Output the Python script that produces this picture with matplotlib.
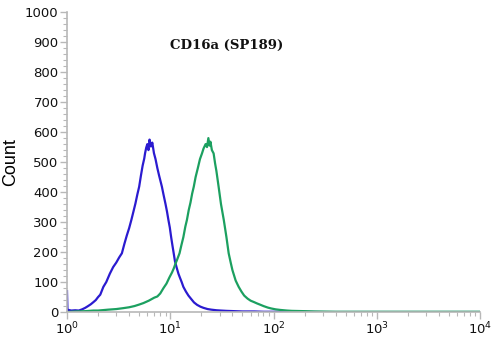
import numpy as np
import matplotlib.pyplot as plt
from matplotlib.ticker import LogLocator, MultipleLocator, NullFormatter

# Blue histogram (isotype / unstained)
blue_x = [1.0, 1.01, 1.1, 1.2, 1.3, 1.4, 1.5, 1.6, 1.7, 1.8, 1.9, 2.0, 2.1, 2.25, 2.4, 2.6,
          2.8, 3.0, 3.2, 3.4, 3.6, 3.8, 4.0, 4.2, 4.4, 4.6, 4.8, 5.0, 5.2, 5.4, 5.6, 5.7,
          5.85, 6.0, 6.15, 6.3, 6.5, 6.7, 6.95, 7.2, 7.5, 7.8, 8.0, 8.3, 8.6, 9.0, 9.3,
          9.6, 9.9, 10.2, 10.5, 10.8, 11.1, 11.5, 12.0, 12.4, 12.9, 13.4, 14.2, 15.0,
          16.0, 17.0, 18.2, 19.6, 21.0, 23.0, 25.0, 28.0, 31.0, 35.0, 42.0, 50.0, 65.0,
          80.0, 120.0, 300.0, 1000.0, 10000.0]
blue_y = [70, 8, 5, 6, 5, 9, 14, 20, 26, 33, 40, 50, 58, 84, 100, 128,
          150, 165, 182, 196, 228, 256, 280, 307, 335, 362, 392, 418, 455, 488, 512, 529,
          548, 560, 540, 575, 552, 565, 530, 510, 480, 455, 440, 418, 392, 360, 335,
          307, 282, 250, 222, 196, 170, 150, 128, 115, 100, 84, 68, 55,
          43, 32, 24, 18, 14, 10, 8, 6, 5, 4, 3, 2, 2,
          1, 1, 0, 0, 0]

# Green histogram (CD16a stained)
green_x = [1.0, 1.2, 1.5, 1.8, 2.0, 2.5, 3.0, 3.5, 4.0, 4.5, 5.0, 5.5, 6.2, 7.0, 7.5,
           8.0, 8.6, 9.2, 9.8, 10.4, 10.8, 11.2, 11.6, 12.3, 12.8, 13.4, 14.0, 14.5,
           15.1, 15.7, 16.3, 16.9, 17.6, 18.5, 19.4, 20.3, 21.0, 22.0, 22.7, 23.4,
           24.0, 24.5, 25.3, 26.3, 27.2, 28.0, 29.4, 31.0, 33.0, 35.0, 36.8, 38.5,
           40.0, 43.0, 46.0, 49.0, 52.0, 56.0, 60.0, 65.0, 69.0, 75.0, 80.0, 88.0,
           95.0, 105.0, 117.0, 135.0, 150.0, 200.0, 250.0, 400.0, 500.0, 1000.0,
           2000.0, 5000.0, 10000.0]
green_y = [0, 2, 3, 5, 5, 8, 10, 13, 16, 20, 25, 30, 38, 48, 52,
           62, 80, 95, 115, 132, 145, 160, 173, 196, 222, 250, 285, 307,
           340, 365, 395, 418, 450, 480, 510, 529, 545, 560, 550, 580,
           555, 568, 540, 529, 495, 470, 418, 360, 307, 250, 196, 165,
           140, 105, 84, 68, 55, 45, 38, 33, 29, 24, 20, 15,
           12, 9, 7, 5, 4, 3, 2, 1, 1, 1,
           1, 1, 1]

y_ticks = list(range(0, 1001, 100))
x_ticks = [1, 10, 100, 1000, 10000]
x_labels = ['$10^0$', '$10^1$', '$10^2$', '$10^3$', '$10^4$']

fig = plt.figure(figsize=(5.0, 3.37), dpi=100)
ax = fig.add_axes([0.134, 0.074, 0.826, 0.890])

ax.plot(blue_x, blue_y, color='#2b1bd0', lw=1.6)
ax.plot(green_x, green_y, color='#1ca060', lw=1.6)

ax.set_xscale('log')
ax.set_xlim(1, 10000)
ax.set_ylim(0, 1000)

spine_color = '#b8b8b8'
for side in ['top', 'right']:
    ax.spines[side].set_visible(False)
for side in ['left', 'bottom']:
    ax.spines[side].set_color(spine_color)
    ax.spines[side].set_linewidth(1.2)

ax.set_yticks(y_ticks)
ax.yaxis.set_minor_locator(MultipleLocator(20))
ax.set_xticks(x_ticks)
ax.set_xticklabels(x_labels)
ax.xaxis.set_minor_locator(LogLocator(base=10, subs=np.arange(2, 10)))
ax.xaxis.set_minor_formatter(NullFormatter())

ax.tick_params(axis='both', which='major', length=5, width=1, color=spine_color,
               labelsize=9.5, labelcolor='#111111', pad=1)
ax.tick_params(axis='both', which='minor', length=3, width=0.8, color=spine_color)

ax.set_ylabel('Count', fontsize=13, family=['Liberation Sans', 'DejaVu Sans'])
ax.yaxis.set_label_coords(-0.115, 0.5)

fig.text(0.454, 0.866, 'CD16a (SP189)', fontsize=9.5, fontweight='bold',
         family=['DejaVu Serif'], ha='center', va='center', color='#111111')

fig.savefig('out.png', dpi=100)
